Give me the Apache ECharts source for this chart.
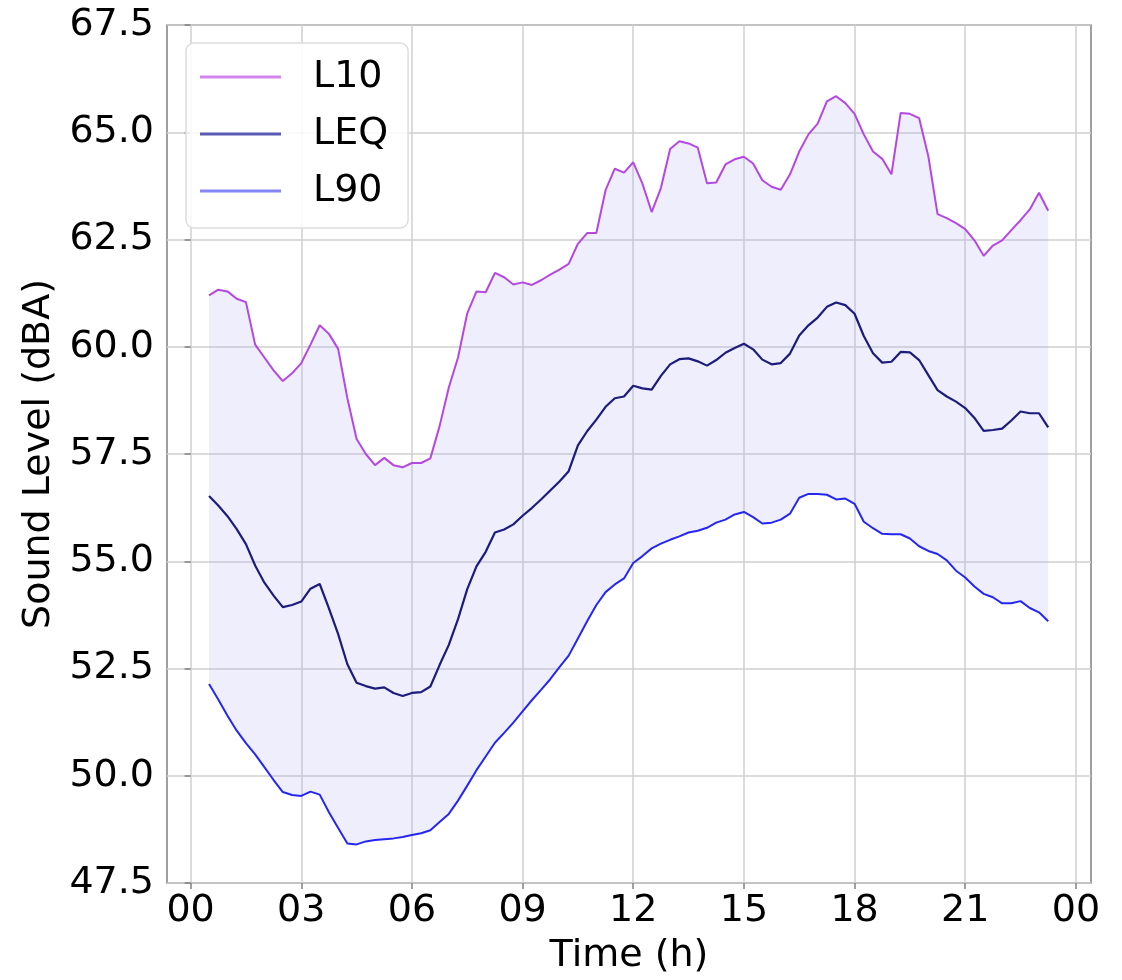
<!DOCTYPE html>
<html>
<head>
<meta charset="utf-8">
<script src="https://cdn.jsdelivr.net/npm/echarts@6/dist/echarts.min.js"></script>
<style>
  html, body { margin: 0; padding: 0; background: #ffffff; }
  #chart { width: 1122px; height: 980px; }
</style>
</head>
<body>
<div id="chart"></div>
<script>
// Time of day (hours), 15-minute steps
const hours = [
  0.5, 0.75, 1.0, 1.25, 1.5, 1.75, 2.0, 2.25, 2.5, 2.75,
  3.0, 3.25, 3.5, 3.75, 4.0, 4.25, 4.5, 4.75, 5.0, 5.25,
  5.5, 5.75, 6.0, 6.25, 6.5, 6.75, 7.0, 7.25, 7.5, 7.75,
  8.0, 8.25, 8.5, 8.75, 9.0, 9.25, 9.5, 9.75, 10.0, 10.25,
  10.5, 10.75, 11.0, 11.25, 11.5, 11.75, 12.0, 12.25, 12.5, 12.75,
  13.0, 13.25, 13.5, 13.75, 14.0, 14.25, 14.5, 14.75, 15.0, 15.25,
  15.5, 15.75, 16.0, 16.25, 16.5, 16.75, 17.0, 17.25, 17.5, 17.75,
  18.0, 18.25, 18.5, 18.75, 19.0, 19.25, 19.5, 19.75, 20.0, 20.25,
  20.5, 20.75, 21.0, 21.25, 21.5, 21.75, 22.0, 22.25, 22.5, 22.75,
  23.0, 23.25
];

const L10 = [
  61.20, 61.33, 61.29, 61.12, 61.04, 60.05, 59.75, 59.45, 59.20, 59.38,
  59.62, 60.05, 60.50, 60.30, 59.95, 58.80, 57.85, 57.50, 57.24, 57.41,
  57.24, 57.19, 57.29, 57.29, 57.40, 58.15, 59.05, 59.75, 60.78, 61.29,
  61.27, 61.72, 61.62, 61.45, 61.50, 61.44, 61.55, 61.68, 61.80, 61.93,
  62.40, 62.65, 62.65, 63.65, 64.15, 64.06, 64.30, 63.80, 63.14, 63.70,
  64.61, 64.79, 64.74, 64.64, 63.81, 63.83, 64.25, 64.37, 64.43, 64.27,
  63.88, 63.73, 63.66, 64.02, 64.55, 64.95, 65.20, 65.72, 65.84, 65.68,
  65.43, 64.95, 64.55, 64.38, 64.02, 65.45, 65.43, 65.33, 64.44, 63.09,
  63.00, 62.88, 62.74, 62.48, 62.12, 62.36, 62.48, 62.72, 62.95, 63.20,
  63.59, 63.17
];

const LEQ = [
  56.52, 56.30, 56.05, 55.75, 55.40, 54.90, 54.50, 54.20, 53.93, 53.98,
  54.06, 54.36, 54.47, 53.90, 53.30, 52.60, 52.17, 52.09, 52.03, 52.06,
  51.93, 51.86, 51.93, 51.95, 52.08, 52.58, 53.05, 53.65, 54.35, 54.88,
  55.22, 55.67, 55.74, 55.86, 56.06, 56.24, 56.44, 56.65, 56.86, 57.10,
  57.70, 58.03, 58.30, 58.60, 58.80, 58.84, 59.09, 59.03, 59.00, 59.32,
  59.59, 59.71, 59.73, 59.66, 59.56, 59.69, 59.86, 59.97, 60.07, 59.94,
  59.70, 59.59, 59.62, 59.84, 60.26, 60.50, 60.68, 60.93, 61.03, 60.97,
  60.77, 60.25, 59.85, 59.63, 59.65, 59.88, 59.87, 59.69, 59.34, 58.99,
  58.84, 58.72, 58.57, 58.34, 58.04, 58.06, 58.09, 58.28, 58.49, 58.45,
  58.45, 58.12
];

const L90 = [
  52.14, 51.78, 51.40, 51.05, 50.76, 50.50, 50.20, 49.90, 49.62, 49.55,
  49.53, 49.63, 49.56, 49.15, 48.78, 48.42, 48.40, 48.47, 48.50, 48.52,
  48.54, 48.57, 48.62, 48.66, 48.73, 48.92, 49.11, 49.42, 49.77, 50.13,
  50.45, 50.77, 51.00, 51.24, 51.50, 51.76, 52.00, 52.25, 52.53, 52.80,
  53.20, 53.60, 53.98, 54.28, 54.46, 54.60, 54.96, 55.12, 55.30, 55.41,
  55.50, 55.58, 55.67, 55.71, 55.78, 55.90, 55.97, 56.09, 56.15, 56.03,
  55.88, 55.90, 55.97, 56.11, 56.48, 56.57, 56.57, 56.55, 56.44, 56.46,
  56.34, 55.92, 55.77, 55.64, 55.63, 55.63, 55.53, 55.35, 55.24, 55.17,
  55.02, 54.78, 54.62, 54.41, 54.24, 54.16, 54.02, 54.02, 54.07, 53.91,
  53.81, 53.60
];

const xTickValues = [0, 3, 6, 9, 12, 15, 18, 21, 24];
const xTickLabels = ['00', '03', '06', '09', '12', '15', '18', '21', '00'];

const seriesNames = ['L10', 'LEQ', 'L90'];

const FONT = 'DejaVu Sans';

const pairs = (vals) => vals.map((v, i) => [hours[i], v]);

const chart = echarts.init(document.getElementById('chart'), null, { renderer: 'canvas' });

// band between L10 (upper) and L90 (lower), drawn through the axis scales
function renderBand(params, api) {
  const pts = [];
  for (let i = 0; i < hours.length; i++) pts.push(api.coord([hours[i], L10[i]]));
  for (let i = hours.length - 1; i >= 0; i--) pts.push(api.coord([hours[i], L90[i]]));
  return {
    type: 'polygon',
    shape: { points: pts },
    style: { fill: 'rgba(170,170,240,0.2)' },
    silent: true
  };
}

const option = {
  animation: false,
  backgroundColor: '#ffffff',
  grid: {
    left: 167, top: 25, width: 924, height: 862,
    show: true, borderColor: '#808080', borderWidth: 1.5,
    backgroundColor: 'transparent'
  },
  xAxis: {
    type: 'value',
    min: -0.64, max: 24.41,
    name: 'Time (h)',
    nameLocation: 'middle',
    nameGap: 54,
    nameTextStyle: { fontFamily: FONT, fontSize: 38, color: '#000' },
    axisLine: { show: false },
    axisTick: {
      show: true, inside: false, length: 6,
      customValues: xTickValues,
      lineStyle: { color: '#808080', width: 1.5 }
    },
    axisLabel: {
      customValues: xTickValues,
      margin: 9,
      fontFamily: FONT, fontSize: 38, color: '#000',
      formatter: function (v) {
        const i = xTickValues.indexOf(v);
        return i >= 0 ? xTickLabels[i] : '';
      }
    },
    splitLine: { show: true, lineStyle: { color: '#cfcfcf', width: 1.5 } }
  },
  yAxis: {
    type: 'value',
    min: 47.5, max: 67.5, interval: 2.5,
    name: 'Sound Level (dBA)',
    nameLocation: 'middle',
    nameRotate: 90,
    nameGap: 108,
    nameTextStyle: { fontFamily: FONT, fontSize: 38, color: '#000' },
    axisLine: { show: false },
    axisTick: {
      show: true, inside: false, length: 6,
      lineStyle: { color: '#808080', width: 1.5 }
    },
    axisLabel: {
      margin: 13,
      fontFamily: FONT, fontSize: 38, color: '#000',
      formatter: function (v) { return v.toFixed(1); }
    },
    splitLine: { show: true, lineStyle: { color: '#cfcfcf', width: 1.5 } }
  },
  legend: {
    orient: 'vertical',
    left: 186, top: 43,
    padding: [14, 20, 17, 14],
    itemGap: 17,
    itemWidth: 81,
    itemHeight: 3,
    icon: 'rect',
    backgroundColor: 'rgba(255,255,255,0.85)',
    borderColor: '#dddddd',
    borderWidth: 1.5,
    borderRadius: 8,
    textStyle: {
      fontFamily: FONT, fontSize: 38, color: '#000',
      lineHeight: 40, padding: [0, 0, 0, 27]
    },
    data: [
      { name: 'L10', itemStyle: { color: '#d385ee' } },
      { name: 'LEQ', itemStyle: { color: '#5a5ab2' } },
      { name: 'L90', itemStyle: { color: '#8686f8' } }
    ]
  },
  series: [
    {
      name: 'band', type: 'custom', renderItem: renderBand,
      data: [0], silent: true, z: 1, clip: true
    },
    {
      name: seriesNames[0], type: 'line', data: pairs(L10), symbol: 'none',
      lineStyle: { color: '#b448e0', width: 2 }, itemStyle: { color: '#b448e0' }, z: 3
    },
    {
      name: seriesNames[1], type: 'line', data: pairs(LEQ), symbol: 'none',
      lineStyle: { color: '#1c1c7c', width: 2.2 }, itemStyle: { color: '#1c1c7c' }, z: 3
    },
    {
      name: seriesNames[2], type: 'line', data: pairs(L90), symbol: 'none',
      lineStyle: { color: '#2626f2', width: 2 }, itemStyle: { color: '#2626f2' }, z: 3
    }
  ]
};

chart.setOption(option);
</script>
</body>
</html>
